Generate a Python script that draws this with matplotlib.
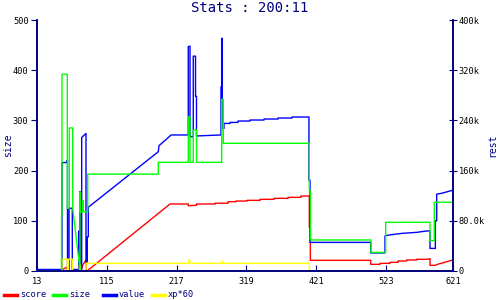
import matplotlib
matplotlib.use("Agg")
import matplotlib.pyplot as plt
from matplotlib.lines import Line2D
from matplotlib.ticker import FuncFormatter

# size (left axis)
size_x = [13, 48.8, 48.8, 49.5, 49.5, 57.3, 57.3, 60.2, 60.2, 65.2, 65.2, 75.8, 75.8, 76.5, 76.5,
          79.8, 79.8, 80.5, 80.5, 87.1, 87.1, 190.3, 190.3, 234.1, 234.1, 236.6, 236.6, 241.4, 241.4,
          246.1, 246.1, 282.9, 282.9, 285.3, 285.3, 411, 411, 412.7, 412.7, 501.1, 501.1, 522.6, 522.6,
          587.4, 587.4, 593.7, 593.7, 621]
size_y = [0, 0, 110, 110, 392, 392, 125, 125, 285, 285, 125, 3, 157, 157, 118,
          118, 140, 140, 118, 118, 193, 193, 216.5, 216.5, 307, 307, 216.5, 216.5, 281,
          281, 216.5, 216.5, 342, 342, 254.4, 254.4, 160, 160, 61.8, 61.8, 37, 37, 97,
          97, 60.4, 60.4, 137, 137]

# value (right axis, thousands)
value_x = [13, 49.5, 49.5, 55.4, 57.3, 57.6, 57.6, 59.8, 59.8, 64.6, 64.6, 74.4, 74.4, 74.8, 75.8,
           75.8, 76.5, 78.3, 78.3, 84.6, 84.6, 86.5, 86.5, 88, 88, 190.3, 191.3, 207.4, 209,
           234.1, 234.1, 236.6, 236.6, 241.4, 241.4, 244.7, 244.7, 246.1, 246.1, 281.9, 281.9,
           282.9, 282.9, 283.8, 283.8, 286.3, 286.3, 295.1, 295.1, 306.8, 306.8, 324.3, 324.3,
           344.8, 344.8, 365.3, 365.3, 385.7, 385.7, 410.5, 410.5, 412, 412, 500.7, 500.7, 521.6,
           521.6, 529, 547, 568, 582.6, 587.4, 587.4, 595.2, 595.2, 597.2, 597.2, 605, 613, 621]
value_y = [2.4, 2.4, 172.8, 172.8, 176.8, 176.8, 2.4, 2.4, 100, 100, 2.4, 2.4, 64, 2.4, 2.4,
           126.4, 2.4, 2.4, 212.8, 219.2, 14.4, 14.4, 54.4, 54.4, 101.6, 190.1, 199.7, 215.2, 216.8,
           216.8, 357.6, 358.4, 214, 214, 342.4, 342.4, 278.4, 278.4, 215.2, 216.8, 293.6,
           293.6, 370.8, 370.8, 227.2, 227.2, 235.2, 235.2, 236.8, 236.8, 239, 239, 240.6,
           240.6, 242.2, 242.2, 243.8, 243.8, 245.4, 245.4, 144.8, 144.8, 45.6, 45.6, 28.8, 28.8,
           56, 57.6, 60, 61.6, 63.8, 63.8, 36, 36, 80, 80, 122.4, 124, 126.4, 128.8]

# score (right axis, thousands)
score_x = [13, 46.6, 57.3, 57.3, 76.5, 78.3, 80, 84.6, 84.6, 86.5, 88, 207.4, 234.1, 234.1,
           246.1, 246.1, 273.2, 273.2, 292.2, 292.2, 303.8, 303.8, 319.9, 319.9, 339, 339,
           359.4, 359.4, 379.9, 379.9, 398.8, 398.8, 411, 411, 412.5, 412.5, 500.7, 500.7,
           514.3, 514.3, 528.9, 528.9, 540.6, 540.6, 553.3, 553.3, 568, 568, 582.6, 587.4,
           587.4, 595.2, 600, 606, 613, 621]
score_y = [0.4, 0.4, 6.4, 0.4, 0.4, 4, 9.6, 17.6, 1.6, 0.4, 1.6, 106.8, 106.8, 104,
           104.8, 106.8, 106.8, 108, 108, 110.4, 110.4, 111.5, 111.5, 112.6, 112.6, 114.2,
           114.2, 115.8, 115.8, 117.4, 117.4, 119.5, 119.5, 69.6, 69.6, 17, 17, 10.6,
           10.6, 12.2, 12.2, 13.8, 13.8, 16, 16, 17.6, 17.6, 18.6, 18.6, 19.6,
           9, 9, 11.2, 12.8, 15.2, 17.6]

# xp*60 (right axis, thousands)
xp_x = [13, 49.5, 49.5, 57.3, 57.3, 58.7, 58.7, 65.2, 65.2, 74.8, 74.8, 76.5, 76.5, 84.6, 84.6,
        235, 235.5, 236.5, 238, 240, 283.5, 284, 284.8, 411, 411, 413.5, 621]
xp_y = [0.5, 0.5, 18.8, 18.8, 0.5, 0.5, 18.8, 18.8, 0.5, 0.5, 9.6, 9.6, 0.5, 0.5, 12.2,
        12.2, 18.4, 12.8, 14, 12.2, 12.2, 16, 12.2, 12.2, 2.4, 0.5, 0.5]

x_ticks = [13, 115, 217, 319, 421, 523, 621]
left_ticks = [0, 100, 200, 300, 400, 500]
right_ticks = [0, 80, 160, 240, 320, 400]

series_names = ["score", "size", "value", "xp*60"]
series_colors = ["#ff0000", "#00ff00", "#0000ff", "#ffff00"]

navy = "#000080"
mono = "DejaVu Sans Mono"
plt.rcParams["font.family"] = mono

fig = plt.figure(figsize=(5, 3), dpi=100)
ax = fig.add_axes([0.074, 0.0967, 0.832, 0.8366])
ax2 = ax.twinx()

ax2.plot(score_x, score_y, color=series_colors[0], lw=1.0)
ax.plot(size_x, size_y, color=series_colors[1], lw=1.0)
ax2.plot(value_x, value_y, color=series_colors[2], lw=1.0)
ax2.plot(xp_x, xp_y, color=series_colors[3], lw=1.0)
ax.set_zorder(ax2.get_zorder() + 1)
ax.patch.set_visible(False)

ax.set_xlim(13, 621)
ax.set_ylim(0, 500)
ax2.set_ylim(0, 400)
ax.set_xticks(x_ticks)
ax.set_yticks(left_ticks)
ax2.set_yticks(right_ticks)


def fmt_k(v, pos):
    if v == 0:
        return "0"
    if v < 100:
        return f"{v:.1f}k"
    return f"{v:.0f}k"


ax2.yaxis.set_major_formatter(FuncFormatter(fmt_k))

for a in (ax, ax2):
    for s in a.spines.values():
        s.set_color(navy)
        s.set_linewidth(1.2)
    a.spines["top"].set_visible(False)

ax.tick_params(axis="y", direction="out", length=4, color=navy, labelsize=6.2, pad=2)
ax.tick_params(axis="x", direction="in", length=4, color=navy, labelsize=6.2, pad=4)
ax2.tick_params(axis="y", direction="inout", length=6, color=navy, labelsize=6.2, pad=1)

# axis titles
fig.text(8 / 500, 0.515, "size", color=navy, fontsize=7, rotation=90, ha="center", va="center")
fig.text(492 / 500, 0.515, "rest", color=navy, fontsize=7, rotation=90, ha="center", va="center")
fig.text(0.5, 0.973, "Stats : 200:11", color=navy, fontsize=10, ha="center", va="center")

# legend row along the bottom edge
for i, (name, col) in enumerate(zip(series_names, series_colors)):
    x0 = (4 + 49.3 * i) / 500
    fig.add_artist(Line2D([x0, x0 + 13 / 500], [0.017, 0.017], color=col, lw=2.5,
                          transform=fig.transFigure))
    fig.text(x0 + 16 / 500, 0.017, name, color=navy, fontsize=6.2, ha="left", va="center")

fig.savefig("out.png", dpi=100)
